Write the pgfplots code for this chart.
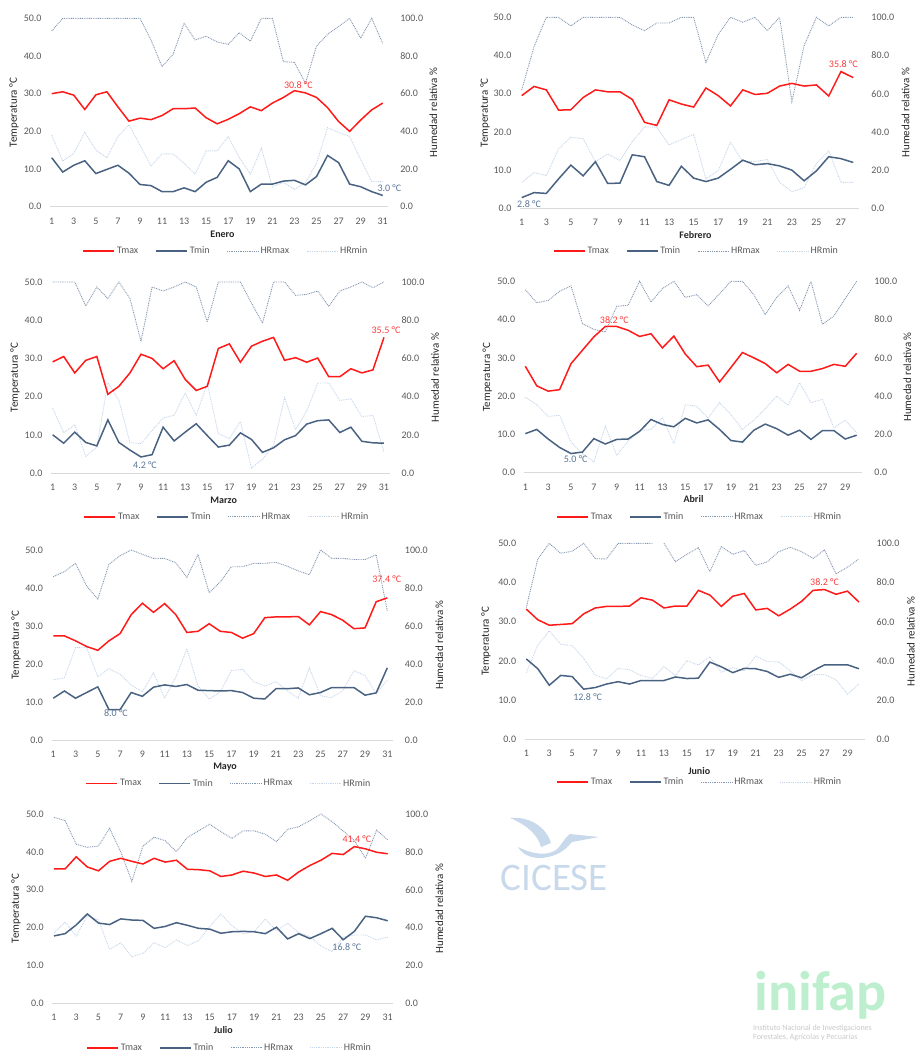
\documentclass[border=0pt]{standalone}
\usepackage{fontspec}
\setmainfont{Carlito}
\usepackage{pgfplots}
\usepackage{pgfplotstable}
\pgfplotsset{compat=1.18}

\definecolor{tmaxc}{HTML}{FF1A1A}
\definecolor{tminc}{HTML}{4A6282}
\definecolor{hrmaxc}{HTML}{8497B0}
\definecolor{hrminc}{HTML}{C5D5EA}
\definecolor{tickgray}{HTML}{595959}
\definecolor{axgray}{HTML}{D9D9D9}
\definecolor{titlec}{HTML}{262626}
\definecolor{lblred}{HTML}{FF3B3B}
\definecolor{lblblue}{HTML}{5A7698}
\definecolor{cicesec}{HTML}{C9D9EC}
\definecolor{inifapc}{HTML}{BDEFCF}
\definecolor{inifapt}{HTML}{C8C8C8}

\pgfplotstableread{
d tmax tmin hrmax hrmin
1 30.0 13.0 93.3 38.0
2 30.5 9.2 100 24.2
3 29.6 11.0 100 28.3
4 25.8 12.2 100 39.5
5 29.7 8.8 100 30.1
6 30.5 9.9 100 26.0
7 26.5 11.0 100 37.2
8 22.7 8.9 100 43.5
9 23.5 5.9 100 32.7
10 23.1 5.6 88.5 21.6
11 24.2 4.0 74.3 28.1
12 26.0 4.0 80.9 28.0
13 26.0 5.0 97.3 23.0
14 26.2 4.0 88.5 17.3
15 23.6 6.5 90.5 29.6
16 22.0 7.8 87.4 29.6
17 23.2 12.2 86.2 37.2
18 24.7 10.0 92.4 26.0
19 26.5 4.0 87.8 17.2
20 25.5 6.0 100 31.0
21 27.5 6.0 100 10.6
22 29.0 6.8 77.0 12.9
23 30.8 7.0 76.6 9.2
24 30.2 5.8 65.5 13.0
25 29.0 8.0 85.3 23.0
26 26.3 13.6 91.5 42.0
27 22.6 11.7 95.6 39.5
28 20.0 6.0 100 37.2
29 23.0 5.3 89.4 25.1
30 25.7 4.0 100 13.3
31 27.5 3.0 86.7 13.3
}\ene

\pgfplotstableread{
d tmax tmin hrmax hrmin
1 29.5 2.8 62.0 13.6
2 31.9 4.1 84.6 18.7
3 31.0 3.9 100 17.1
4 25.7 7.7 100 31.1
5 25.8 11.3 95.5 37.2
6 29.0 8.5 100 36.5
7 31.0 12.2 100 24.4
8 30.5 6.5 100 28.4
9 30.5 6.6 100 25.0
10 28.5 14.0 96.0 34.9
11 22.5 13.5 93.0 42.6
12 21.7 7.0 97.0 42.5
13 28.4 6.0 97.0 33.2
14 27.3 11.0 100 36.0
15 26.5 7.9 100 38.7
16 31.5 7.0 76.4 15.4
17 29.5 7.9 91.0 19.7
18 26.8 10.2 100 34.7
19 31.0 12.6 97.4 24.5
20 29.8 11.4 100 24.5
21 30.1 11.7 93.0 25.5
22 32.0 11.1 100 13.6
23 32.7 10.0 55.8 8.7
24 32.0 7.2 85.2 10.8
25 32.3 9.8 100 23.6
26 29.4 13.5 95.5 30.0
27 35.8 13.0 100 13.6
28 34.2 12.0 100 13.6
}\feb

\pgfplotstableread{
d tmax tmin hrmax hrmin
1 29.1 10.0 100 34.0
2 30.5 7.8 100 21.1
3 26.2 10.7 100 25.3
4 29.5 8.0 87.4 8.7
5 30.5 7.1 97.4 13.6
6 20.6 13.9 91.3 47.3
7 22.7 8.0 100 38.0
8 26.2 6.0 91.3 15.9
9 31.1 4.2 68.9 15.4
10 30.0 4.8 97.4 22.2
11 27.3 12.0 95.3 28.8
12 29.4 8.4 97.4 30.2
13 24.5 10.7 100 41.9
14 21.6 12.9 97.4 30.2
15 22.7 9.8 79.0 46.9
16 32.6 6.8 100 20.6
17 33.8 7.3 100 18.0
18 29.0 10.5 100 27.0
19 33.2 8.8 89.0 2.6
20 34.5 5.4 78.5 7.2
21 35.5 6.6 100 14.5
22 29.5 8.7 100 39.4
23 30.2 9.8 93.0 22.7
24 29.0 12.8 93.5 32.5
25 30.1 13.7 95.3 47.1
26 25.2 13.9 87.2 47.1
27 25.2 10.6 95.3 38.0
28 27.3 12.0 97.4 38.9
29 26.2 8.3 100 29.5
30 27.0 7.9 97.0 30.2
31 35.5 7.8 100 11.0
}\mar

\pgfplotstableread{
d tmax tmin hrmax hrmin
1 27.8 10.2 95.6 39.4
2 22.7 11.3 88.8 35.5
3 21.3 8.8 90.0 29.4
4 21.7 6.6 94.8 30.0
5 28.5 5.0 97.6 16.0
6 32.0 5.4 77.9 9.9
7 35.5 8.9 74.9 5.6
8 38.2 7.5 73.5 24.4
9 38.2 8.7 86.9 9.0
10 37.2 8.8 87.5 16.6
11 35.6 10.8 100 22.0
12 36.3 13.9 89.2 22.6
13 32.6 12.6 96.2 28.7
14 35.7 12.0 100 15.2
15 31.0 14.2 91.6 35.5
16 27.7 13.0 93.0 34.8
17 28.1 13.8 87.1 28.5
18 23.7 11.3 93.5 36.6
19 27.5 8.4 100 30.3
20 31.4 8.0 100 22.6
21 30.0 11.1 93.0 27.4
22 28.5 12.7 82.6 33.5
23 26.1 11.5 91.6 40.0
24 28.3 9.8 97.6 35.2
25 26.5 11.1 84.8 47.0
26 26.5 8.7 100 36.6
27 27.2 11.0 77.5 38.3
28 28.3 11.0 81.9 23.5
29 27.8 8.8 90.9 27.4
30 31.2 9.8 100 20.9
}\abr

\pgfplotstableread{
d tmax tmin hrmax hrmin
1 27.4 11.0 86.0 31.6
2 27.4 12.9 88.6 32.8
3 26.1 11.0 93.0 48.6
4 24.6 12.5 81.0 48.6
5 23.6 14.0 74.2 33.3
6 26.1 8.0 92.5 37.5
7 28.0 8.0 97.0 34.6
8 33.0 12.5 100 29.0
9 36.0 11.5 97.7 25.4
10 33.6 13.9 95.6 35.4
11 35.9 14.5 95.6 22.0
12 33.0 14.1 93.3 33.0
13 28.3 14.6 85.6 47.9
14 28.6 13.1 97.7 28.4
15 30.6 13.0 77.5 21.6
16 28.6 12.9 83.3 25.4
17 28.3 13.0 91.2 36.5
18 26.8 12.5 91.2 37.2
19 28.0 11.0 93.0 30.7
20 32.2 10.8 93.0 28.4
21 32.4 13.5 93.5 30.7
22 32.4 13.5 91.5 26.0
23 32.5 13.7 89.0 22.0
24 30.3 11.9 87.0 38.0
25 33.8 12.5 100 23.3
26 33.0 13.8 95.6 22.3
27 31.5 13.8 95.6 26.0
28 29.3 13.8 95.0 36.5
29 29.5 11.8 95.0 33.9
30 36.4 12.4 97.5 24.6
31 37.4 19.0 67.9 31.6
}\may

\pgfplotstableread{
d tmax tmin hrmax hrmin
1 33.2 20.5 67.2 34.0
2 30.5 18.0 92.0 48.1
3 29.1 13.8 100 55.3
4 29.3 16.3 94.9 48.5
5 29.5 16.0 96.0 47.8
6 32.0 12.8 100 41.3
7 33.5 13.2 92.2 32.8
8 33.9 14.1 92.0 30.8
9 33.9 14.7 100 36.2
10 34.0 14.1 100 35.5
11 36.1 15.0 100 32.5
12 35.5 15.0 100 31.1
13 33.5 15.0 100 37.1
14 34.0 15.9 90.6 32.5
15 34.0 15.5 94.4 40.1
16 38.0 15.6 97.8 37.9
17 36.8 19.7 85.5 42.2
18 33.9 18.5 98.3 34.2
19 36.5 17.0 94.4 36.6
20 37.2 18.1 96.3 34.9
21 33.0 18.0 88.8 42.5
22 33.4 17.3 90.5 39.6
23 31.5 15.8 95.7 39.5
24 33.2 16.6 98.0 35.0
25 35.2 15.7 95.7 29.9
26 38.0 17.5 92.3 33.0
27 38.2 19.0 96.6 33.0
28 37.0 19.0 84.4 30.4
29 37.8 19.0 87.8 23.0
30 35.0 18.0 92.0 28.2
}\jun

\pgfplotstableread{
d tmax tmin hrmax hrmin
1 35.5 17.8 98.2 37.3
2 35.5 18.4 96.5 42.8
3 38.7 20.7 84.0 35.6
4 36.0 23.6 82.4 46.1
5 35.0 21.2 83.1 44.0
6 37.5 20.8 92.4 28.5
7 38.3 22.3 80.0 32.0
8 37.5 22.0 64.4 24.6
9 36.8 21.9 83.1 26.4
10 38.3 19.8 87.7 32.0
11 37.3 20.3 85.9 29.4
12 37.8 21.3 80.1 33.5
13 35.4 20.6 87.7 30.5
14 35.3 19.8 91.1 33.1
15 35.0 19.6 94.6 40.5
16 33.5 18.5 90.7 47.2
17 33.9 18.9 87.1 41.0
18 34.9 19.0 91.1 36.6
19 34.4 18.9 91.1 37.9
20 33.5 18.4 89.3 44.5
21 33.9 20.1 85.4 38.4
22 32.5 17.0 91.9 42.3
23 34.7 18.4 93.3 37.3
24 36.4 17.1 96.5 35.2
25 37.8 18.4 100 30.3
26 39.6 19.8 96.0 27.3
27 39.3 16.8 91.0 35.0
28 41.4 19.0 86.0 36.1
29 40.8 23.0 76.6 36.1
30 39.9 22.6 91.5 33.5
31 39.5 21.8 86.3 35.0
}\jul

\pgfplotsset{
  common/.style={scale only axis, clip=false, xmin=0.85, ymin=0,
    anchor=south west,
    tick style={draw=none}, major tick length=0pt,
    tick label style={font=\fontsize{10}{12}\selectfont, text=tickgray},
    /pgf/number format/assume math mode=true,
    yticklabel style={/pgf/number format/fixed, /pgf/number format/fixed zerofill, /pgf/number format/precision=1},
    label style={font=\fontsize{11}{13}\selectfont, text=titlec},
  },
  tempax/.style={common, ymax=50, ytick={0,10,...,50},
    axis x line*=bottom, axis y line*=left,
    x axis line style={draw=axgray, line width=0.75pt},
    y axis line style={draw=none},
    yticklabel style={xshift=-5pt},
    xticklabel style={yshift=-7.5pt},
    ylabel={Temperatura °C},
    legend columns=4,
    legend image code/.code={\draw[##1, line cap=butt] (0pt,0pt) -- (31pt,0pt);},
    legend style={draw=none, fill=none, anchor=center,
      font=\fontsize{10}{12}\selectfont, text=tickgray,
      /tikz/every even column/.append style={column sep=15pt}},
    legend entries={Tmax,Tmin,HRmax,HRmin},
  },
  hrax/.style={common, ymax=100, ytick={0,20,...,100},
    axis x line=none, axis y line*=right,
    y axis line style={draw=none}, xtick=\empty,
    yticklabel style={xshift=8.5pt},
    ylabel={Humedad relativa \%},
  },
  tmaxst/.style={color=tmaxc, line width=1.5pt, mark=none},
  tminst/.style={color=tminc, line width=1.5pt, mark=none},
  hrmaxst/.style={color=hrmaxc, line width=0.9pt, dash pattern=on 0.9pt off 0.9pt, mark=none},
  hrminst/.style={color=hrminc, line width=0.9pt, dash pattern=on 0.9pt off 0.9pt, mark=none},
}
\tikzset{
  lblr/.style={text=lblred, font=\fontsize{10}{12}\selectfont, anchor=center, inner sep=0pt},
  lblb/.style={text=lblblue, font=\fontsize{10}{12}\selectfont, anchor=center, inner sep=0pt},
  month/.style={font=\bfseries\fontsize{10}{12}\selectfont, text=titlec, anchor=center},
}

\begin{document}
\begin{tikzpicture}
\path[use as bounding box] (0pt,0pt) rectangle (916pt,-1052pt);

% ---------------- Enero ----------------
\begin{axis}[hrax, at={(50.05pt,-206.7pt)}, width=338.2pt, height=188.4pt, xmax=31.5,
  ylabel style={at={(axis description cs:1.1332,0.5)}, anchor=center}]
\addplot[hrmaxst] table[x=d,y=hrmax]{\ene};
\addplot[hrminst] table[x=d,y=hrmin]{\ene};
\end{axis}
\begin{axis}[tempax, at={(50.05pt,-206.7pt)}, width=338.2pt, height=188.4pt, xmax=31.5,
  xtick={1,3,...,31},
  ylabel style={at={(axis description cs:-0.1066,0.5)}, anchor=center},
  legend style={at={(0.52,-0.235)}}]
\addplot[tmaxst] table[x=d,y=tmax]{\ene};
\addplot[tminst] table[x=d,y=tmin]{\ene};
\addlegendimage{hrmaxst}
\addlegendimage{hrminst}
\node[lblr, xshift=3.9pt, yshift=5.6pt] at (axis cs:23,30.8) {30.8 °C};
\node[lblb, xshift=6.6pt, yshift=7.1pt] at (axis cs:31,3.0) {3.0 °C};
\end{axis}
\node[month] at (222.5pt,-234pt) {Enero};

% ---------------- Febrero ----------------
\begin{axis}[hrax, at={(519.9pt,-208.3pt)}, width=339.5pt, height=191pt, xmax=28.5,
  ylabel style={at={(axis description cs:1.1364,0.5)}, anchor=center}]
\addplot[hrmaxst] table[x=d,y=hrmax]{\feb};
\addplot[hrminst] table[x=d,y=hrmin]{\feb};
\end{axis}
\begin{axis}[tempax, at={(519.9pt,-208.3pt)}, width=339.5pt, height=191pt, xmax=28.5,
  xtick={1,3,...,27},
  ylabel style={at={(axis description cs:-0.1028,0.5)}, anchor=center},
  legend style={at={(0.52,-0.2245)}}]
\addplot[tmaxst] table[x=d,y=tmax]{\feb};
\addplot[tminst] table[x=d,y=tmin]{\feb};
\addlegendimage{hrmaxst}
\addlegendimage{hrminst}
\node[lblr, xshift=2.3pt, yshift=7.2pt] at (axis cs:27,35.8) {35.8 °C};
\node[lblb, xshift=7.3pt, yshift=-6.4pt] at (axis cs:1,2.8) {2.8 °C};
\end{axis}
\node[month] at (695.5pt,-235pt) {Febrero};

% ---------------- Marzo ----------------
\begin{axis}[hrax, at={(51pt,-473pt)}, width=338.5pt, height=191pt, xmax=31.5,
  ylabel style={at={(axis description cs:1.1344,0.5)}, anchor=center}]
\addplot[hrmaxst] table[x=d,y=hrmax]{\mar};
\addplot[hrminst] table[x=d,y=hrmin]{\mar};
\end{axis}
\begin{axis}[tempax, at={(51pt,-473pt)}, width=338.5pt, height=191pt, xmax=31.5,
  xtick={1,3,...,31},
  ylabel style={at={(axis description cs:-0.1064,0.5)}, anchor=center},
  legend style={at={(0.52,-0.230)}}]
\addplot[tmaxst] table[x=d,y=tmax]{\mar};
\addplot[tminst] table[x=d,y=tmin]{\mar};
\addlegendimage{hrmaxst}
\addlegendimage{hrminst}
\node[lblr, xshift=2pt, yshift=7.1pt] at (axis cs:31,35.5) {35.5 °C};
\node[lblb, xshift=4pt, yshift=-7.7pt] at (axis cs:9,4.2) {4.2 °C};
\end{axis}
\node[month] at (223.7pt,-500.3pt) {Marzo};

% ---------------- Abril ----------------
\begin{axis}[hrax, at={(523.6pt,-472.7pt)}, width=338.8pt, height=191.4pt, xmax=30.5,
  ylabel style={at={(axis description cs:1.1325,0.5)}, anchor=center}]
\addplot[hrmaxst] table[x=d,y=hrmax]{\abr};
\addplot[hrminst] table[x=d,y=hrmin]{\abr};
\end{axis}
\begin{axis}[tempax, at={(523.6pt,-472.7pt)}, width=338.8pt, height=191.4pt, xmax=30.5,
  xtick={1,3,...,29},
  ylabel style={at={(axis description cs:-0.1071,0.5)}, anchor=center},
  legend style={at={(0.52,-0.231)}}]
\addplot[tmaxst] table[x=d,y=tmax]{\abr};
\addplot[tminst] table[x=d,y=tmin]{\abr};
\addlegendimage{hrmaxst}
\addlegendimage{hrminst}
\node[lblr, xshift=9pt, yshift=6.8pt] at (axis cs:8,38.2) {38.2 °C};
\node[lblb, xshift=4.7pt, yshift=-5.1pt] at (axis cs:5,5.0) {5.0 °C};
\end{axis}
\node[month] at (693.5pt,-499.3pt) {Abril};

% ---------------- Mayo ----------------
\begin{axis}[hrax, at={(51.6pt,-740pt)}, width=341.3pt, height=190pt, xmax=31.5,
  ylabel style={at={(axis description cs:1.136,0.5)}, anchor=center}]
\addplot[hrmaxst] table[x=d,y=hrmax]{\may};
\addplot[hrminst] table[x=d,y=hrmin]{\may};
\end{axis}
\begin{axis}[tempax, at={(51.6pt,-740pt)}, width=341.3pt, height=190pt, xmax=31.5,
  xtick={1,3,...,31},
  ylabel style={at={(axis description cs:-0.1043,0.5)}, anchor=center},
  legend style={at={(0.52,-0.228)}}]
\addplot[tmaxst] table[x=d,y=tmax]{\may};
\addplot[tminst] table[x=d,y=tmin]{\may};
\addlegendimage{hrmaxst}
\addlegendimage{hrminst}
\node[lblr, xshift=-0.6pt, yshift=18.6pt] at (axis cs:31,37.4) {37.4 °C};
\node[lblb, xshift=7pt, yshift=-3.1pt] at (axis cs:6,8.0) {8.0 °C};
\end{axis}
\node[month] at (225pt,-767.3pt) {Mayo};

% ---------------- Junio ----------------
\begin{axis}[hrax, at={(524.6pt,-739.3pt)}, width=340.1pt, height=196pt, xmax=30.5,
  ylabel style={at={(axis description cs:1.1353,0.5)}, anchor=center}]
\addplot[hrmaxst] table[x=d,y=hrmax, restrict x to domain=1:12]{\jun};
\addplot[hrmaxst] table[x=d,y=hrmax, restrict x to domain=13:30]{\jun};
\addplot[hrminst] table[x=d,y=hrmin]{\jun};
\end{axis}
\begin{axis}[tempax, at={(524.6pt,-739.3pt)}, width=340.1pt, height=196pt, xmax=30.5,
  xtick={1,3,...,29},
  ylabel style={at={(axis description cs:-0.1135,0.5)}, anchor=center},
  legend style={at={(0.515,-0.2185)}}]
\addplot[tmaxst] table[x=d,y=tmax]{\jun};
\addplot[tminst] table[x=d,y=tmin]{\jun};
\addlegendimage{hrmaxst}
\addlegendimage{hrminst}
\node[lblr, xshift=0pt, yshift=7.3pt] at (axis cs:27,38.2) {38.2 °C};
\node[lblb, xshift=4pt, yshift=-7.6pt] at (axis cs:6,12.8) {12.8 °C};
\end{axis}
\node[month] at (699.2pt,-770.7pt) {Junio};

% ---------------- Julio ----------------
\begin{axis}[hrax, at={(52.3pt,-1003.3pt)}, width=341pt, height=189.3pt, xmax=31.5,
  ylabel style={at={(axis description cs:1.1349,0.5)}, anchor=center}]
\addplot[hrmaxst] table[x=d,y=hrmax]{\jul};
\addplot[hrminst] table[x=d,y=hrmin]{\jul};
\end{axis}
\begin{axis}[tempax, at={(52.3pt,-1003.3pt)}, width=341pt, height=189.3pt, xmax=31.5,
  xtick={1,3,...,31},
  ylabel style={at={(axis description cs:-0.1065,0.5)}, anchor=center},
  legend style={at={(0.52,-0.235)}}]
\addplot[tmaxst] table[x=d,y=tmax]{\jul};
\addplot[tminst] table[x=d,y=tmin]{\jul};
\addlegendimage{hrmaxst}
\addlegendimage{hrminst}
\node[lblr, xshift=2.5pt, yshift=7.3pt] at (axis cs:28,41.4) {41.4 °C};
\node[lblb, xshift=3.6pt, yshift=-7pt] at (axis cs:27,16.8) {16.8 °C};
\end{axis}
\node[month] at (223.3pt,-1030pt) {Julio};

% ---------------- Logos ----------------
\fill[cicesec] (510pt,-818pt) .. controls (528pt,-816pt) and (546pt,-826pt) .. (551pt,-843pt)
  -- (541pt,-847pt) .. controls (538pt,-835pt) and (527pt,-825pt) .. cycle;
\fill[cicesec] (518pt,-847pt) .. controls (530pt,-853pt) and (545pt,-857pt) .. (556pt,-850pt)
  .. controls (562pt,-845pt) and (564pt,-838pt) .. (570pt,-834pt) -- (599pt,-837pt) -- (572pt,-842pt)
  .. controls (566pt,-849pt) and (558pt,-857pt) .. (540pt,-858pt)
  .. controls (530pt,-858pt) and (522pt,-854pt) .. cycle;
\node[text=cicesec, font=\fontsize{39}{40}\selectfont, anchor=base, inner sep=0pt] at (554.2pt,-890pt) {CICESE};
\node[text=inifapc, font=\bfseries\fontsize{56}{58}\selectfont, anchor=base, inner sep=0pt] at (820.5pt,-1010pt) {inifap};
\node[text=inifapt, font=\fontsize{8}{9.2}\selectfont, anchor=north west, align=left, inner sep=0pt] at (753pt,-1025pt) {Instituto Nacional de Investigaciones\\Forestales, Agrícolas y Pecuarias};
\end{tikzpicture}
\end{document}
